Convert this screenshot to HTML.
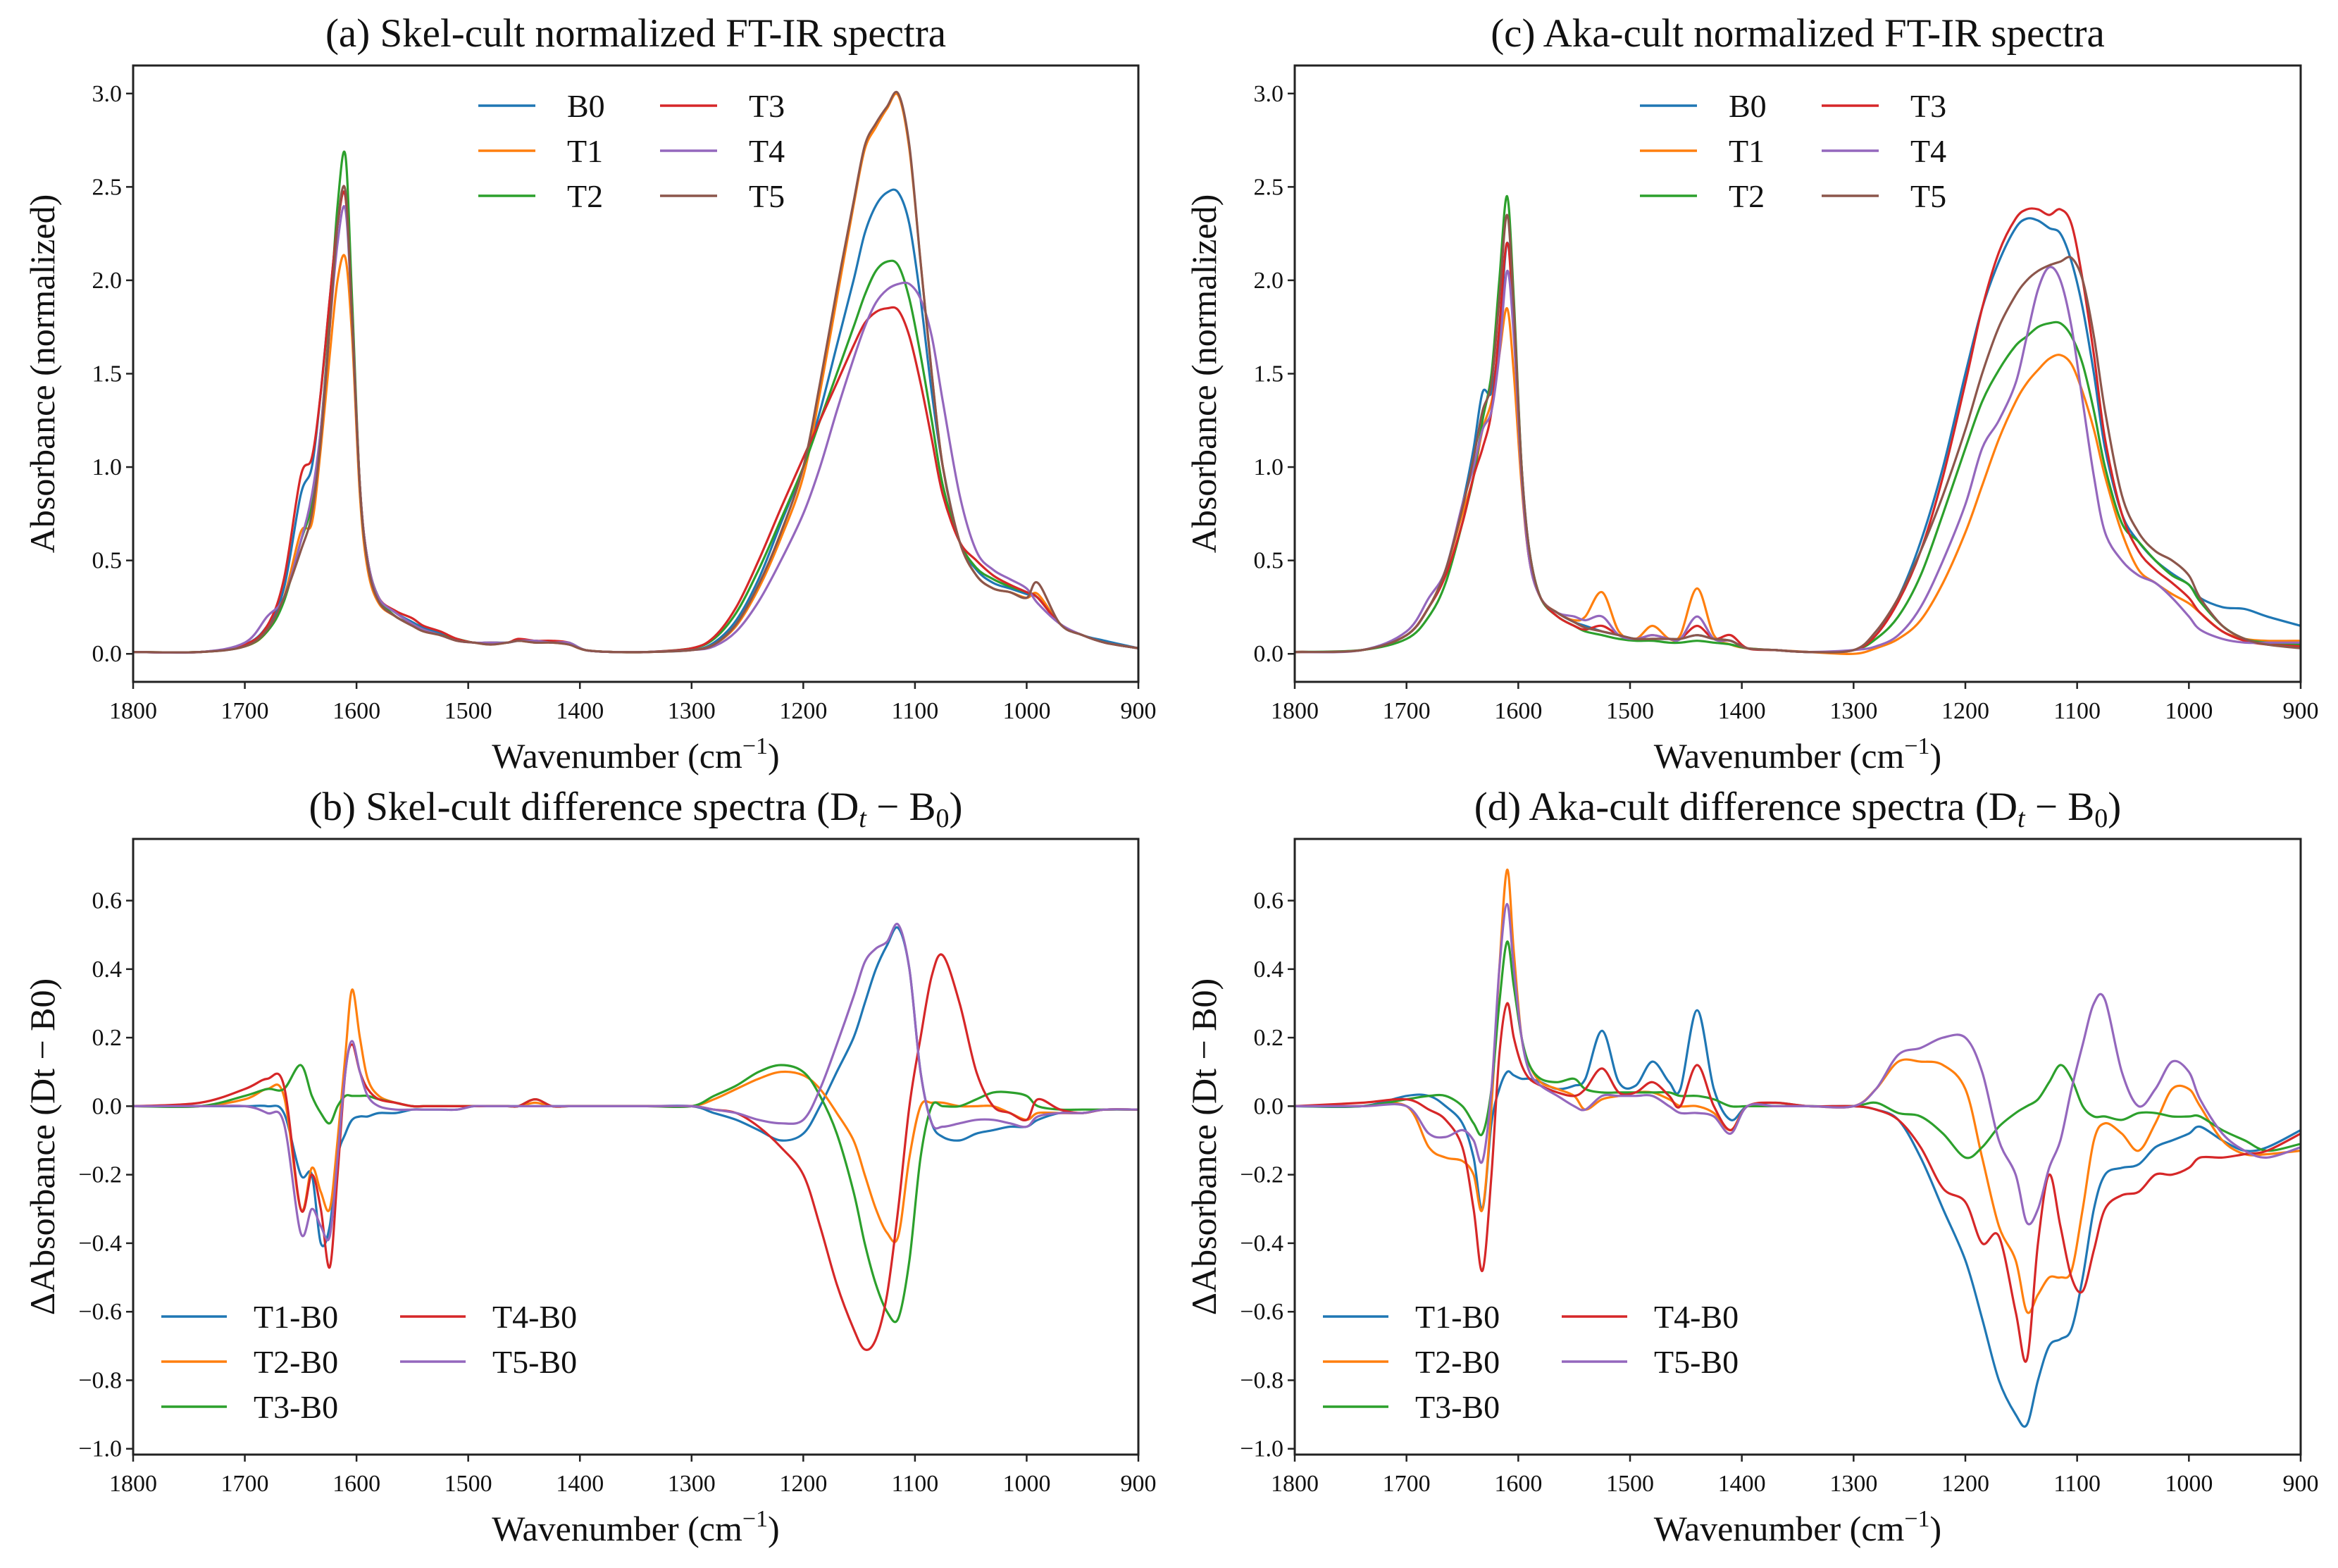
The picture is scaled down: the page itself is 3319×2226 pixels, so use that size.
<!DOCTYPE html>
<html><head><meta charset="utf-8"><style>
html,body{margin:0;padding:0;background:#fff;}
svg, svg text{font-family:"Liberation Serif","Times New Roman","DejaVu Serif",serif;}
</style></head><body>
<svg id="fig" width="3319" height="2221" viewBox="0 0 3319 2221" xmlns="http://www.w3.org/2000/svg" font-family="Liberation Serif, Times New Roman, serif"></svg>
<script>
const wavenumbers=[1800,1740,1700,1680,1665,1650,1640,1632,1624,1617,1610,1604,1597,1590,1580,1565,1550,1540,1525,1510,1495,1480,1465,1455,1440,1425,1410,1395,1370,1340,1300,1280,1260,1240,1220,1200,1185,1170,1155,1145,1135,1125,1115,1105,1095,1085,1075,1060,1045,1030,1015,1000,990,970,950,930,900];
const xTicks=[1800,1700,1600,1500,1400,1300,1200,1100,1000,900];
const yTicksTop=[0.0,0.5,1.0,1.5,2.0,2.5,3.0];
const yTickLabelsTop=["0.0","0.5","1.0","1.5","2.0","2.5","3.0"];
const yTicksBot=[-1.0,-0.8,-0.6,-0.4,-0.2,0.0,0.2,0.4,0.6];
const yTickLabelsBot=["\u22121.0","\u22120.8","\u22120.6","\u22120.4","\u22120.2","0.0","0.2","0.4","0.6"];
const seriesNamesTop=["B0","T1","T2","T3","T4","T5"];
const seriesNamesBot=["T1-B0","T2-B0","T3-B0","T4-B0","T5-B0"];

// (a) Skel-cult
const skelB0=[0.01,0.01,0.05,0.15,0.35,0.85,1.0,1.4,1.9,2.3, 2.45,1.8,0.9,0.5,0.3,0.22,0.17,0.14,0.11,0.08, 0.06,0.06,0.06,0.07,0.07,0.06,0.06,0.02,0.01,0.01, 0.02,0.06,0.18,0.4,0.7,1.0,1.3,1.65,2.0,2.25, 2.4,2.47,2.47,2.3,1.9,1.4,1.0,0.6,0.45,0.38, 0.35,0.32,0.3,0.16,0.1,0.07,0.03];
const skelT1=[0.01,0.01,0.04,0.12,0.3,0.65,0.7,1.1,1.6,2.0, 2.12,1.7,0.85,0.45,0.27,0.2,0.15,0.12,0.1,0.07, 0.06,0.05,0.06,0.07,0.06,0.06,0.05,0.02,0.01,0.01, 0.02,0.05,0.15,0.35,0.62,0.95,1.4,1.9,2.4,2.7, 2.82,2.92,2.99,2.7,2.1,1.5,1.0,0.6,0.42,0.35, 0.33,0.3,0.32,0.16,0.1,0.06,0.03];
const skelT2=[0.01,0.01,0.04,0.12,0.28,0.6,0.8,1.2,1.8,2.4, 2.67,1.9,0.9,0.5,0.3,0.2,0.16,0.13,0.1,0.08, 0.06,0.06,0.06,0.07,0.07,0.06,0.06,0.02,0.01,0.01, 0.03,0.08,0.22,0.45,0.72,1.0,1.25,1.5,1.75,1.92, 2.05,2.1,2.08,1.9,1.6,1.25,0.9,0.6,0.46,0.4, 0.36,0.33,0.3,0.16,0.1,0.06,0.03];
const skelT3=[0.01,0.01,0.05,0.15,0.4,0.95,1.05,1.4,1.9,2.3, 2.45,1.8,0.9,0.5,0.3,0.23,0.19,0.15,0.12,0.08, 0.06,0.06,0.06,0.08,0.07,0.07,0.06,0.02,0.01,0.01, 0.03,0.09,0.25,0.5,0.78,1.05,1.25,1.45,1.65,1.77, 1.83,1.85,1.84,1.7,1.45,1.15,0.85,0.6,0.5,0.42, 0.37,0.33,0.3,0.16,0.1,0.06,0.03];
const skelT4=[0.01,0.01,0.06,0.2,0.3,0.6,0.85,1.2,1.75,2.2, 2.38,1.8,0.9,0.5,0.3,0.22,0.16,0.13,0.1,0.07, 0.06,0.06,0.06,0.07,0.07,0.06,0.06,0.02,0.01,0.01, 0.02,0.04,0.12,0.28,0.5,0.75,1.0,1.3,1.58,1.75, 1.88,1.95,1.98,1.98,1.9,1.7,1.35,0.85,0.55,0.45, 0.4,0.35,0.27,0.16,0.1,0.06,0.03];
const skelT5=[0.01,0.01,0.04,0.13,0.3,0.55,0.75,1.15,1.75,2.3, 2.48,1.8,0.9,0.48,0.28,0.2,0.15,0.12,0.1,0.07, 0.06,0.05,0.06,0.07,0.06,0.06,0.05,0.02,0.01,0.01, 0.02,0.05,0.16,0.37,0.65,1.0,1.45,1.95,2.42,2.72, 2.84,2.93,3.0,2.72,2.1,1.5,1.0,0.6,0.42,0.35, 0.33,0.3,0.38,0.16,0.1,0.06,0.03];

// (c) Aka-cult
const akaB0=[0.01,0.02,0.1,0.25,0.45,0.8,1.1,1.4,1.4,1.7, 2.2,1.8,1.0,0.55,0.3,0.22,0.17,0.15,0.12,0.1, 0.08,0.08,0.08,0.08,0.1,0.08,0.07,0.03,0.02,0.01, 0.02,0.1,0.3,0.6,1.0,1.5,1.85,2.1,2.28,2.33, 2.32,2.28,2.25,2.1,1.85,1.5,1.1,0.75,0.6,0.5, 0.43,0.37,0.3,0.25,0.24,0.2,0.15];
const akaT1=[0.01,0.02,0.1,0.25,0.45,0.75,0.95,1.2,1.35,1.6, 1.85,1.5,0.9,0.5,0.3,0.22,0.18,0.2,0.33,0.12, 0.08,0.15,0.08,0.1,0.35,0.1,0.05,0.03,0.02,0.01, 0.0,0.03,0.08,0.18,0.38,0.65,0.9,1.15,1.35,1.45, 1.52,1.58,1.6,1.55,1.4,1.2,0.95,0.65,0.45,0.38, 0.32,0.27,0.22,0.12,0.08,0.07,0.07];
const akaT2=[0.01,0.02,0.08,0.2,0.38,0.7,0.95,1.25,1.5,2.0, 2.45,1.9,1.0,0.55,0.3,0.2,0.15,0.12,0.1,0.08, 0.07,0.07,0.06,0.06,0.07,0.06,0.05,0.03,0.02,0.01, 0.02,0.08,0.2,0.42,0.75,1.1,1.35,1.52,1.65,1.7, 1.75,1.77,1.77,1.7,1.55,1.3,1.0,0.7,0.6,0.5, 0.42,0.37,0.28,0.15,0.08,0.06,0.05];
const akaT3=[0.01,0.02,0.1,0.25,0.42,0.7,0.95,1.1,1.3,1.75, 2.2,1.75,0.95,0.5,0.3,0.2,0.15,0.13,0.15,0.1, 0.08,0.1,0.08,0.08,0.15,0.08,0.1,0.03,0.02,0.01, 0.02,0.1,0.28,0.55,0.95,1.45,1.85,2.15,2.33,2.38, 2.38,2.35,2.38,2.3,2.0,1.6,1.15,0.75,0.55,0.45, 0.38,0.3,0.22,0.12,0.07,0.05,0.04];
const akaT4=[0.01,0.02,0.12,0.3,0.45,0.8,1.0,1.2,1.3,1.6, 2.05,1.7,0.95,0.5,0.3,0.22,0.2,0.18,0.2,0.1, 0.08,0.1,0.08,0.08,0.2,0.08,0.07,0.03,0.02,0.01, 0.02,0.04,0.1,0.25,0.5,0.8,1.1,1.25,1.45,1.7, 1.95,2.07,2.0,1.75,1.35,0.95,0.65,0.5,0.42,0.38, 0.3,0.2,0.13,0.08,0.06,0.06,0.06];
const akaT5=[0.01,0.02,0.1,0.25,0.45,0.78,1.05,1.3,1.45,1.9, 2.35,1.85,1.0,0.55,0.3,0.22,0.17,0.14,0.12,0.1, 0.08,0.08,0.08,0.08,0.1,0.08,0.07,0.03,0.02,0.01, 0.02,0.12,0.3,0.55,0.85,1.2,1.5,1.75,1.92,2.0, 2.05,2.08,2.1,2.12,2.0,1.7,1.3,0.85,0.65,0.55, 0.5,0.42,0.3,0.15,0.08,0.05,0.03];

// (b) Skel-cult differences
const skelD1=[0.0,0.0,0.0,0.0,-0.02,-0.2,-0.2,-0.4,-0.35,-0.15, -0.08,-0.04,-0.03,-0.03,-0.02,-0.02,-0.01,-0.01,-0.01,-0.01, 0.0,0.0,0.0,0.0,0.0,0.0,0.0,0.0,0.0,0.0, 0.0,-0.02,-0.04,-0.07,-0.1,-0.08,0.0,0.1,0.2,0.3, 0.4,0.47,0.52,0.4,0.1,-0.05,-0.09,-0.1,-0.08,-0.07, -0.06,-0.06,-0.04,-0.02,-0.02,-0.01,-0.01];
const skelD2=[0.0,0.0,0.02,0.05,0.03,-0.3,-0.18,-0.25,-0.3,-0.1, 0.15,0.34,0.2,0.08,0.03,0.01,0.0,0.0,0.0,0.0, 0.0,0.0,0.0,0.0,0.01,0.0,0.0,0.0,0.0,0.0, 0.0,0.02,0.05,0.08,0.1,0.09,0.05,-0.02,-0.1,-0.2, -0.3,-0.37,-0.38,-0.15,0.0,0.01,0.01,0.0,0.0,0.0, -0.02,-0.04,-0.02,-0.02,-0.02,-0.01,-0.01];
const skelD3=[0.0,0.0,0.03,0.05,0.05,0.12,0.03,-0.02,-0.05,0.0, 0.03,0.03,0.03,0.03,0.02,0.01,0.0,0.0,0.0,0.0, 0.0,0.0,0.0,0.0,0.02,0.0,0.0,0.0,0.0,0.0, 0.0,0.03,0.06,0.1,0.12,0.1,0.03,-0.08,-0.25,-0.4, -0.52,-0.6,-0.62,-0.45,-0.15,0.0,0.0,0.0,0.02,0.04, 0.04,0.03,0.0,-0.01,-0.01,-0.01,-0.01];
const skelD4=[0.0,0.01,0.05,0.08,0.06,-0.3,-0.2,-0.3,-0.47,-0.2, 0.1,0.18,0.1,0.05,0.02,0.01,0.0,0.0,0.0,0.0, 0.0,0.0,0.0,0.0,0.02,0.0,0.0,0.0,0.0,0.0, 0.0,-0.01,-0.02,-0.06,-0.12,-0.2,-0.35,-0.52,-0.65,-0.71, -0.68,-0.55,-0.3,0.0,0.2,0.38,0.44,0.3,0.1,0.0, -0.02,-0.04,0.02,-0.01,-0.02,-0.01,-0.01];
const skelD5=[0.0,0.0,0.0,-0.02,-0.05,-0.37,-0.3,-0.35,-0.38,-0.15, 0.1,0.19,0.1,0.03,0.0,-0.01,-0.01,-0.01,-0.01,-0.01, 0.0,0.0,0.0,0.0,0.0,0.0,0.0,0.0,0.0,0.0, 0.0,-0.01,-0.02,-0.04,-0.05,-0.04,0.05,0.18,0.32,0.42, 0.46,0.48,0.53,0.4,0.1,-0.05,-0.06,-0.05,-0.04,-0.04, -0.05,-0.06,-0.03,-0.02,-0.02,-0.01,-0.01];

// (d) Aka-cult differences
const akaD1=[0.0,0.0,0.03,0.03,0.0,-0.05,-0.15,-0.3,-0.05,0.05, 0.1,0.09,0.08,0.08,0.07,0.05,0.06,0.08,0.22,0.07, 0.06,0.13,0.07,0.05,0.28,0.05,-0.04,0.0,0.01,0.0, 0.0,-0.01,-0.04,-0.15,-0.3,-0.45,-0.62,-0.8,-0.9,-0.93, -0.8,-0.7,-0.68,-0.65,-0.5,-0.3,-0.2,-0.18,-0.17,-0.12, -0.1,-0.08,-0.06,-0.1,-0.13,-0.12,-0.07];
const akaD2=[0.0,0.0,0.0,-0.12,-0.15,-0.16,-0.2,-0.3,0.0,0.4, 0.69,0.45,0.2,0.12,0.07,0.05,0.03,-0.01,0.02,0.03, 0.04,0.04,0.02,0.0,0.0,-0.02,-0.07,0.0,0.0,0.0, 0.0,0.05,0.13,0.13,0.12,0.05,-0.15,-0.35,-0.45,-0.6, -0.55,-0.5,-0.5,-0.48,-0.3,-0.1,-0.05,-0.08,-0.13,-0.05, 0.05,0.05,0.0,-0.1,-0.14,-0.14,-0.13];
const akaD3=[0.0,0.0,0.02,0.03,0.03,0.0,-0.05,-0.08,0.05,0.3, 0.48,0.35,0.2,0.12,0.08,0.07,0.08,0.05,0.04,0.04, 0.04,0.04,0.04,0.03,0.03,0.02,0.0,0.0,0.0,0.0, 0.0,0.01,-0.02,-0.03,-0.08,-0.15,-0.12,-0.06,-0.02,0.0, 0.02,0.07,0.12,0.08,0.0,-0.03,-0.03,-0.04,-0.02,-0.02, -0.03,-0.03,-0.03,-0.07,-0.1,-0.13,-0.11];
const akaD4=[0.0,0.01,0.02,-0.01,-0.04,-0.12,-0.3,-0.48,-0.2,0.15, 0.3,0.2,0.12,0.08,0.06,0.04,0.03,0.05,0.11,0.04, 0.04,0.07,0.03,0.0,0.12,0.0,-0.07,0.0,0.01,0.0, 0.0,-0.01,-0.04,-0.12,-0.24,-0.28,-0.4,-0.38,-0.6,-0.74, -0.4,-0.2,-0.35,-0.5,-0.54,-0.42,-0.3,-0.26,-0.25,-0.2, -0.2,-0.18,-0.15,-0.15,-0.14,-0.13,-0.08];
const akaD5=[0.0,0.0,0.0,-0.08,-0.09,-0.07,-0.1,-0.16,0.05,0.4, 0.59,0.4,0.2,0.1,0.06,0.03,0.0,-0.01,0.03,0.03, 0.03,0.03,0.0,-0.02,-0.02,-0.03,-0.08,0.0,0.0,0.0, 0.0,0.05,0.15,0.17,0.2,0.2,0.1,-0.1,-0.2,-0.34, -0.3,-0.18,-0.1,0.05,0.18,0.3,0.31,0.1,0.0,0.05, 0.13,0.1,0.02,-0.08,-0.13,-0.15,-0.12];

const COLORS=["#1f77b4","#ff7f0e","#2ca02c","#d62728","#9467bd","#8c564b"];
const FONT="Liberation Serif, Times New Roman, DejaVu Serif, serif";
const NS="http://www.w3.org/2000/svg";
const svg=document.getElementById('fig');
function mk(tag,attrs,parent){const e=document.createElementNS(NS,tag);for(const k in attrs)e.setAttribute(k,attrs[k]);if(tag==='text')e.setAttribute('font-family',FONT);(parent||svg).appendChild(e);return e;}

function smoothPath(pts){
  let d="M"+pts[0][0].toFixed(1)+","+pts[0][1].toFixed(1);
  for(let i=0;i<pts.length-1;i++){
    const p0=pts[Math.max(0,i-1)],p1=pts[i],p2=pts[i+1],p3=pts[Math.min(pts.length-1,i+2)];
    const c1x=p1[0]+(p2[0]-p0[0])/6,c1y=p1[1]+(p2[1]-p0[1])/6;
    const c2x=p2[0]-(p3[0]-p1[0])/6,c2y=p2[1]-(p3[1]-p1[1])/6;
    d+=" C"+c1x.toFixed(1)+","+c1y.toFixed(1)+" "+c2x.toFixed(1)+","+c2y.toFixed(1)+" "+p2[0].toFixed(1)+","+p2[1].toFixed(1);
  }
  return d;
}

function panel(cfg){
  const g=mk('g',{});
  
  
  const L=cfg.left,R=cfg.right,T=cfg.top,B=cfg.bottom;
  const xs=v=>L+(1800-v)/(1800-900)*(R-L);
  const ys=v=>B-(v-cfg.ymin)/(cfg.ymax-cfg.ymin)*(B-T);
  const t=mk('text',{x:(L+R)/2,y:T-27,'text-anchor':'middle','font-size':57,fill:'#111'},g);
  
  
  t.innerHTML=cfg.title;
  const cp='clip'+cfg.id;
  const cl=mk('clipPath',{id:cp},g);mk('rect',{x:L,y:T,width:R-L,height:B-T},cl);
  const sg=mk('g',{'clip-path':'url(#'+cp+')'},g);
  cfg.series.forEach((vals,si)=>{
    const pts=wavenumbers.map((w,i)=>[xs(w),ys(vals[i])]);
    const p=mk('path',{d:smoothPath(pts),fill:'none',stroke:COLORS[si],'stroke-width':3.2,'stroke-linejoin':'round'},sg);
    
    
  });
  const fr=mk('rect',{x:L,y:T,width:R-L,height:B-T,fill:'none',stroke:'#222','stroke-width':3},g);
  
  
  xTicks.forEach(v=>{
    const x=xs(v);
    mk('line',{x1:x,y1:B,x2:x,y2:B+10,stroke:'#222','stroke-width':2.5},g);
    const tl=mk('text',{x:x,y:B+52,'text-anchor':'middle','font-size':34,fill:'#111'},g);
    
    
    tl.textContent=String(v);
  });
  cfg.yticks.forEach((v,i)=>{
    const y=ys(v);
    mk('line',{x1:L-10,y1:y,x2:L,y2:y,stroke:'#222','stroke-width':2.5},g);
    const tl=mk('text',{x:L-16,y:y+11,'text-anchor':'end','font-size':34,fill:'#111'},g);
    
    
    tl.textContent=cfg.ylabels[i];
  });
  const xl=mk('text',{x:(L+R)/2,y:B+122,'text-anchor':'middle','font-size':50,fill:'#111'},g);
  
  
  xl.innerHTML='Wavenumber (cm<tspan dy="-20" font-size="34">\u22121</tspan><tspan dy="20">)</tspan>';
  const yl=mk('text',{x:0,y:0,'text-anchor':'middle','font-size':50,fill:'#111',transform:'translate('+(L-112)+','+((T+B)/2)+') rotate(-90)'},g);
  
  
  yl.textContent=cfg.ylabel;
  const lg=mk('g',{},g);
  
  
  cfg.names.forEach((n,i)=>{
    const col=Math.floor(i/3),row=i%3;
    const lx=L+cfg.leg.x[col],ly=cfg.leg.y+row*cfg.leg.dy;
    const ln=mk('line',{x1:lx,y1:ly,x2:lx+cfg.leg.len,y2:ly,stroke:COLORS[i],'stroke-width':3.5},lg);
    
    
    const tx=mk('text',{x:lx+cfg.leg.len+cfg.leg.gap,y:ly+16,'font-size':46,fill:'#111'},lg);
    
    
    tx.textContent=n;
  });
}

const topY={top:93,bottom:968,ymin:-0.15,ymax:3.15,yticks:yTicksTop,ylabels:yTickLabelsTop,ylabel:'Absorbance (normalized)',names:seriesNamesTop};
const botY={top:1191,bottom:2065,ymin:-1.017,ymax:0.78,yticks:yTicksBot,ylabels:yTickLabelsBot,ylabel:'\u0394Absorbance (Dt \u2212 B0)',names:seriesNamesBot};
const legTop={x:[490,748],y:150,dy:64,len:81,gap:45};
const legBot={x:[40,379],y:1869,dy:64,len:93,gap:38};

panel(Object.assign({id:'a',name:'panel-a-skel-normalized',left:189,right:1616,title:'(a) Skel-cult normalized FT-IR spectra',series:[skelB0,skelT1,skelT2,skelT3,skelT4,skelT5],leg:legTop},topY));
panel(Object.assign({id:'c',name:'panel-c-aka-normalized',left:1838,right:3266,title:'(c) Aka-cult normalized FT-IR spectra',series:[akaB0,akaT1,akaT2,akaT3,akaT4,akaT5],leg:legTop},topY));
panel(Object.assign({id:'b',name:'panel-b-skel-difference',left:189,right:1616,title:'(b) Skel-cult difference spectra (D<tspan dy="10" font-size="38" font-style="italic">t</tspan><tspan dy="-10"> \u2212 B</tspan><tspan dy="10" font-size="38">0</tspan><tspan dy="-10">)</tspan>',series:[skelD1,skelD2,skelD3,skelD4,skelD5],leg:legBot},botY));
panel(Object.assign({id:'d',name:'panel-d-aka-difference',left:1838,right:3266,title:'(d) Aka-cult difference spectra (D<tspan dy="10" font-size="38" font-style="italic">t</tspan><tspan dy="-10"> \u2212 B</tspan><tspan dy="10" font-size="38">0</tspan><tspan dy="-10">)</tspan>',series:[akaD1,akaD2,akaD3,akaD4,akaD5],leg:legBot},botY));
</script>
</body></html>
